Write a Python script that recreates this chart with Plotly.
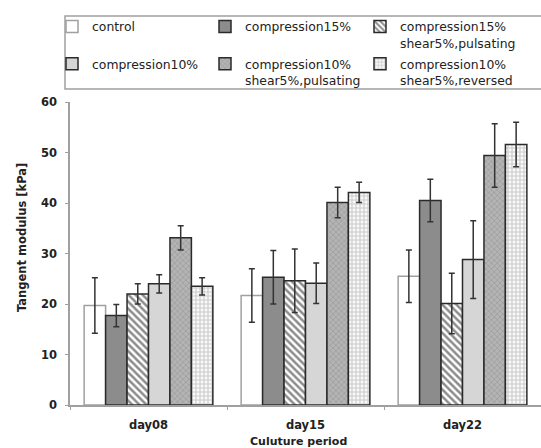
import plotly.graph_objects as go

categories = ["day08", "day15", "day22"]
series_names = [
    "control",
    "compression15%",
    "compression15%<br>shear5%,pulsating",
    "compression10%",
    "compression10%<br>shear5%,pulsating",
    "compression10%<br>shear5%,reversed",
]
control = [19.7, 21.7, 25.5]
control_err = [5.5, 5.3, 5.2]
comp15 = [17.7, 25.3, 40.5]
comp15_err = [2.2, 5.3, 4.2]
comp15_shear_puls = [22.0, 24.6, 20.1]
comp15_shear_puls_err = [2.0, 6.3, 6.0]
comp10 = [24.0, 24.1, 28.8]
comp10_err = [1.8, 4.0, 7.7]
comp10_shear_puls = [33.1, 40.1, 49.4]
comp10_shear_puls_err = [2.4, 3.0, 6.3]
comp10_shear_rev = [23.5, 42.1, 51.6]
comp10_shear_rev_err = [1.7, 2.0, 4.4]
y_ticks = [0, 10, 20, 30, 40, 50, 60]

values = [control, comp15, comp15_shear_puls, comp10, comp10_shear_puls, comp10_shear_rev]
errors = [control_err, comp15_err, comp15_shear_puls_err, comp10_err, comp10_shear_puls_err, comp10_shear_rev_err]
# legend column of each series (reference legend is a 3-column grid)
legend_ids = ["legend", "legend2", "legend3", "legend", "legend2", "legend3"]

styles = [
    dict(color="white", line=dict(color="#a0a0a0", width=1.5), pattern=dict(shape="")),
    dict(color="#8c8c8c", line=dict(color="#2a2a2a", width=1.5), pattern=dict(shape="")),
    dict(color="white", line=dict(color="#2a2a2a", width=1.5),
         pattern=dict(shape="\\", fgcolor="#1a1a1a", bgcolor="white", size=5, solidity=0.5)),
    dict(color="#d6d6d6", line=dict(color="#2a2a2a", width=1.5), pattern=dict(shape="")),
    dict(color="#a8a8a8", line=dict(color="#2a2a2a", width=1.5),
         pattern=dict(shape="x", fgcolor="#7c7c7c", bgcolor="#b4b4b4", size=4, solidity=0.3)),
    dict(color="#e0e0e0", line=dict(color="#2a2a2a", width=1.5),
         pattern=dict(shape="+", fgcolor="#9c9c9c", bgcolor="#fafafa", size=4, solidity=0.5)),
]

fig = go.Figure()
for i, (name, vals, errs, st, lg) in enumerate(zip(series_names, values, errors, styles, legend_ids)):
    fig.add_trace(go.Bar(
        x=categories, y=vals, name=name, legend=lg, legendgroup=f"g{i}",
        marker=dict(color=st["color"], line=st["line"], pattern=st["pattern"]),
        error_y=dict(type="data", array=errs, visible=True, color="#333333", thickness=1.5, width=3),
    ))

W, H = 541, 448
L, R, T, B = 70, 0, 102, 43
pw, ph = W - L - R, H - T - B

def px_x(p):
    return (p - L) / pw

def px_y(p):
    return (H - B - p) / ph

font_family = "DejaVu Sans"

def legend_col(x_text, gap):
    return dict(
        orientation="v", xref="container", yref="container",
        x=(x_text - 40) / W, xanchor="left", y=1 - 12 / H, yanchor="top",
        valign="top", tracegroupgap=gap,
        font=dict(family=font_family, size=12.4, color="#222222"),
        bgcolor="rgba(0,0,0,0)", borderwidth=0, traceorder="grouped",
    )

fig.update_layout(
    width=W, height=H,
    margin=dict(l=L, r=R, t=T, b=B, pad=0, autoexpand=False),
    paper_bgcolor="white", plot_bgcolor="white",
    barmode="group", bargap=0.18, bargroupgap=0,
    font=dict(family=font_family, size=11, color="#222222"),
    showlegend=True,
    legend=legend_col(92, 18),
    legend2=legend_col(245, 18),
    legend3=legend_col(400, 2),
    xaxis=dict(
        showline=True, linecolor="#a0a0a0", linewidth=1.5,
        ticks="outside", ticklen=3, tickcolor="#a0a0a0", tickson="boundaries",
        tickfont=dict(family=font_family, size=11.5, color="#222222", weight="bold"),
        showgrid=False, zeroline=False, automargin=False,
        ticklabelstandoff=8,
    ),
    yaxis=dict(
        range=[0, 60], tickvals=y_ticks, showline=True, linecolor="#a0a0a0", linewidth=1.5,
        ticks="outside", ticklen=3, tickcolor="#a0a0a0",
        tickfont=dict(family=font_family, size=11.5, color="#222222", weight="bold"),
        showgrid=False, zeroline=False, ticklabelstandoff=6, automargin=False,
    ),
    shapes=[dict(
        type="rect", xref="paper", yref="paper",
        x0=px_x(65), x1=px_x(548), y0=px_y(89), y1=px_y(16),
        line=dict(color="#a0a0a0", width=1.5), fillcolor="rgba(0,0,0,0)", layer="above",
    )],
    annotations=[
        dict(text="<b>Tangent modulus [kPa]</b>", xref="paper", yref="paper",
             x=px_x(22), y=px_y(238), textangle=-90, showarrow=False,
             font=dict(family=font_family, size=11.5, color="#222222"),
             xanchor="center", yanchor="middle"),
        dict(text="<b>Culuture period</b>", xref="paper", yref="paper",
             x=px_x(298), y=px_y(441), showarrow=False,
             font=dict(family=font_family, size=11, color="#222222"),
             xanchor="center", yanchor="middle"),
    ],
)

fig.write_html("out.html", config={"displayModeBar": False},
               post_script="document.body.style.margin='0';")
